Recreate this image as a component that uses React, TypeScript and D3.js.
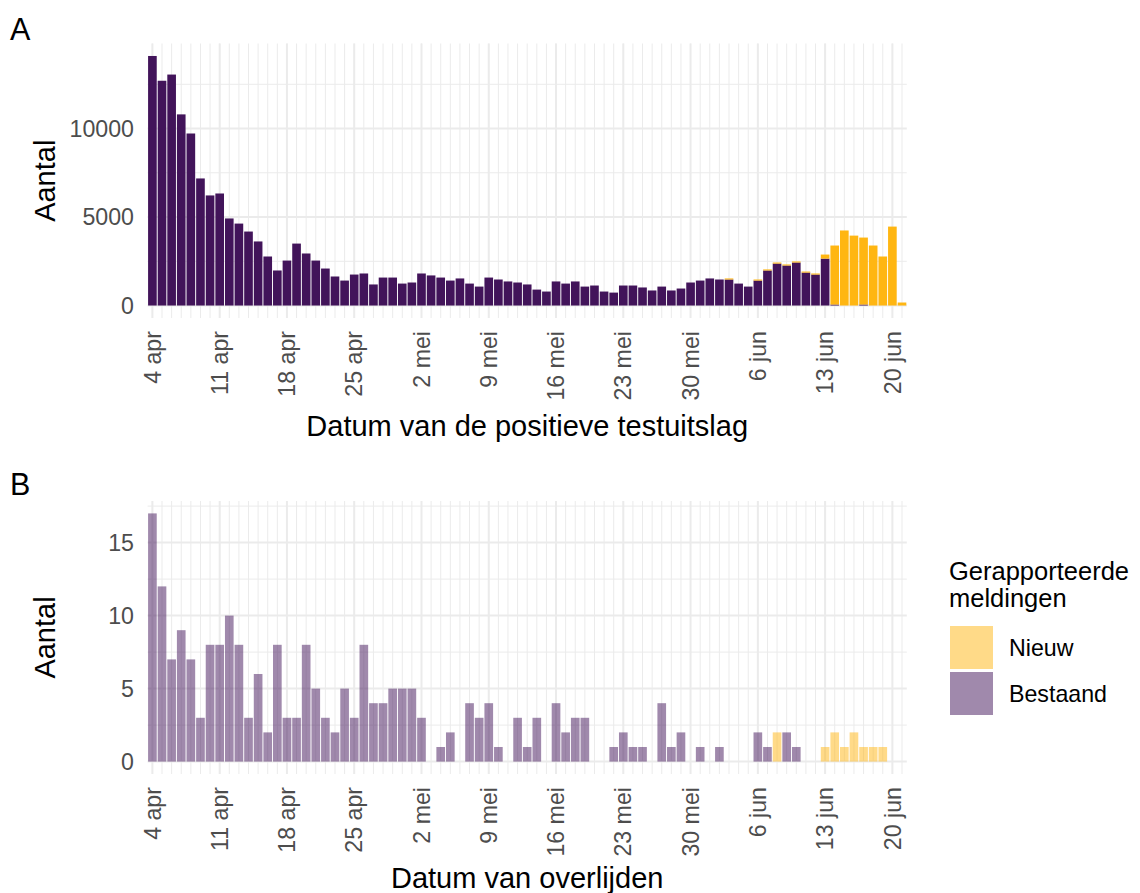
import React from "react";
import * as d3 from "d3";

// ---- Data ----
const startDate = new Date(Date.UTC(2020, 3, 4)); // 4 apr
const nDays = 79; // 4 apr .. 21 jun

// Panel A: date of positive test
const testBestaand = [
  14100, 12700, 13050, 10800, 9720, 7180, 6220, 6330, 4920, 4630,
  4180, 3620, 2770, 1980, 2540, 3500, 2940, 2540, 2090, 1640,
  1410, 1750, 1810, 1190, 1580, 1580, 1240, 1300, 1810, 1700,
  1580, 1410, 1530, 1240, 1070, 1580, 1470, 1360, 1300, 1190,
  900, 790, 1360, 1240, 1360, 1070, 1130, 790, 730, 1130,
  1130, 1020, 850, 1070, 850, 960, 1300, 1410, 1530, 1470,
  1470, 1240, 1070, 1410, 1980, 2370, 2260, 2430, 1860, 1750,
  2650, 55, 0, 0, 55, 0, 0, 0, 0,
];
const testNieuw = [
  0, 0, 0, 0, 0, 0, 0, 0, 0, 0,
  0, 0, 0, 0, 0, 0, 0, 0, 0, 0,
  0, 0, 0, 0, 0, 0, 0, 0, 0, 0,
  0, 0, 0, 0, 0, 0, 0, 0, 0, 0,
  0, 0, 0, 0, 0, 0, 0, 0, 0, 0,
  0, 0, 0, 0, 0, 0, 0, 0, 0, 0,
  60, 0, 0, 60, 60, 60, 60, 60, 60, 60,
  230, 3335, 4240, 3950, 3785, 3390, 2770, 4460, 170,
];

// Panel B: date of death
const deathBestaand = [
  17, 12, 7, 9, 7, 3, 8, 8, 10, 8,
  3, 6, 2, 8, 3, 3, 8, 5, 3, 2,
  5, 3, 8, 4, 4, 5, 5, 5, 3, 0,
  1, 2, 0, 4, 3, 4, 1, 0, 3, 1,
  3, 0, 4, 2, 3, 3, 0, 0, 1, 2,
  1, 1, 0, 4, 1, 2, 0, 1, 0, 1,
  0, 0, 0, 2, 1, 0, 2, 1, 0, 0,
  0, 0, 0, 0, 0, 0, 0, 0, 0,
];
const deathNieuw = [
  0, 0, 0, 0, 0, 0, 0, 0, 0, 0,
  0, 0, 0, 0, 0, 0, 0, 0, 0, 0,
  0, 0, 0, 0, 0, 0, 0, 0, 0, 0,
  0, 0, 0, 0, 0, 0, 0, 0, 0, 0,
  0, 0, 0, 0, 0, 0, 0, 0, 0, 0,
  0, 0, 0, 0, 0, 0, 0, 0, 0, 0,
  0, 0, 0, 0, 0, 2, 0, 0, 0, 0,
  1, 2, 1, 2, 1, 1, 1, 0, 0,
];

const xTickLabels = [
  "4 apr", "11 apr", "18 apr", "25 apr", "2 mei", "9 mei",
  "16 mei", "23 mei", "30 mei", "6 jun", "13 jun", "20 jun",
];
const yTicksA = [0, 5000, 10000];
const yMinorA = [2500, 7500, 12500];
const yTicksB = [0, 5, 10, 15];
const yMinorB = [2.5, 7.5, 12.5, 17.5];

const legendTitleLines = ["Gerapporteerde", "meldingen"];
const legendLabels = ["Nieuw", "Bestaand"];

// ---- Styles ----
const PURPLE = "#42145A";
const ORANGE = "#FFB612";
const FONT = "'Liberation Sans', Arial, Helvetica, sans-serif";
const GRID = "#EBEBEB";

const dates = d3.range(nDays).map((i) => d3.utcDay.offset(startDate, i));

const xScale = d3
  .scaleUtc()
  .domain([
    new Date(startDate.getTime() - 12 * 3600 * 1000),
    new Date(d3.utcDay.offset(startDate, nDays - 1).getTime() + 12 * 3600 * 1000),
  ])
  .range([147.6, 906.8]);

const dayW = xScale(d3.utcDay.offset(startDate, 1)) - xScale(startDate);
const barW = dayW * 0.9;

type PanelProps = {
  top: number;
  bottom: number;
  bestaand: number[];
  nieuw: number[];
  yTicks: number[];
  yMinor: number[];
  alpha: number;
  tag: string;
  tagY: number;
  xTitle: string;
  xTitleY: number;
};

function Panel(p: PanelProps) {
  const totals = p.bestaand.map((v, i) => v + p.nieuw[i]);
  const maxV = d3.max(totals) as number;
  const y = d3
    .scaleLinear()
    .domain([-0.05 * maxV, 1.05 * maxV])
    .range([p.bottom, p.top]);
  const left = xScale.range()[0];
  const right = xScale.range()[1];
  const tickIdx = xTickLabels.map((_, k) => k * 7);
  return (
    <g>
      {/* minor grid */}
      {p.yMinor.map((v) => (
        <line key={"hm" + v} x1={left} x2={right} y1={y(v)} y2={y(v)} stroke={GRID} strokeWidth={1} />
      ))}
      {dates.map((d, i) => (
        <line key={"vm" + i} x1={xScale(d)} x2={xScale(d)} y1={p.top} y2={p.bottom} stroke={GRID} strokeWidth={1} />
      ))}
      {/* major grid */}
      {p.yTicks.map((v) => (
        <line key={"hM" + v} x1={left} x2={right} y1={y(v)} y2={y(v)} stroke={GRID} strokeWidth={2} />
      ))}
      {tickIdx.map((i) => (
        <line key={"vM" + i} x1={xScale(dates[i])} x2={xScale(dates[i])} y1={p.top} y2={p.bottom} stroke={GRID} strokeWidth={2} />
      ))}
      {/* bars */}
      {dates.map((d, i) => {
        const b = p.bestaand[i];
        const n = p.nieuw[i];
        const x0 = xScale(d) - barW / 2;
        return (
          <g key={"b" + i}>
            {b > 0 && (
              <rect x={x0} width={barW} y={y(b)} height={y(0) - y(b)} fill={PURPLE} fillOpacity={p.alpha} />
            )}
            {n > 0 && (
              <rect x={x0} width={barW} y={y(b + n)} height={y(b) - y(b + n)} fill={ORANGE} fillOpacity={p.alpha} />
            )}
          </g>
        );
      })}
      {/* y tick labels */}
      {p.yTicks.map((v) => (
        <text key={"yl" + v} x={134} y={y(v)} dy="0.35em" textAnchor="end" fontSize={23.2} fill="#4D4D4D" fontFamily={FONT}>
          {v}
        </text>
      ))}
      {/* x tick labels */}
      {tickIdx.map((i, k) => (
        <text
          key={"xl" + i}
          transform={`translate(${xScale(dates[i])},${p.bottom + 13}) rotate(-90)`}
          dy="0.35em"
          textAnchor="end"
          fontSize={23.2}
          fill="#4D4D4D"
          fontFamily={FONT}
        >
          {xTickLabels[k]}
        </text>
      ))}
      {/* axis titles */}
      <text
        transform={`translate(55,${(p.top + p.bottom) / 2}) rotate(-90)`}
        textAnchor="middle"
        fontSize={29}
        fontFamily={FONT}
        fill="#000"
      >
        Aantal
      </text>
      <text x={(left + right) / 2} y={p.xTitleY} textAnchor="middle" fontSize={29} fontFamily={FONT} fill="#000">
        {p.xTitle}
      </text>
      <text x={10} y={p.tagY} fontSize={30.5} fontFamily={FONT} fill="#000">
        {p.tag}
      </text>
    </g>
  );
}

export default function App() {
  const legendColors = [ORANGE, PURPLE];
  return (
    <svg
      width={1140}
      height={893}
      style={{ position: "absolute", left: 0, top: 0, background: "#fff" }}
      xmlns="http://www.w3.org/2000/svg"
    >
      <rect width={1140} height={893} fill="#fff" />
      <Panel
        top={43.5}
        bottom={318}
        bestaand={testBestaand}
        nieuw={testNieuw}
        yTicks={yTicksA}
        yMinor={yMinorA}
        alpha={1}
        tag="A"
        tagY={40}
        xTitle="Datum van de positieve testuitslag"
        xTitleY={436}
      />
      <Panel
        top={501}
        bottom={774}
        bestaand={deathBestaand}
        nieuw={deathNieuw}
        yTicks={yTicksB}
        yMinor={yMinorB}
        alpha={0.5}
        tag="B"
        tagY={495}
        xTitle="Datum van overlijden"
        xTitleY={888}
      />
      {/* legend */}
      <g fontFamily={FONT}>
        <text fontSize={25.5} fill="#000">
          {legendTitleLines.map((line, k) => (
            <tspan key={line} x={949} y={580 + k * 26.5}>
              {line}
            </tspan>
          ))}
        </text>
        {legendLabels.map((lab, k) => (
          <g key={lab}>
            <rect x={950} y={626 + k * 46} width={43} height={43} fill={legendColors[k]} fillOpacity={0.5} />
            <text x={1009} y={647.5 + k * 46} dy="0.35em" fontSize={23.2} fill="#000">
              {lab}
            </text>
          </g>
        ))}
      </g>
    </svg>
  );
}
